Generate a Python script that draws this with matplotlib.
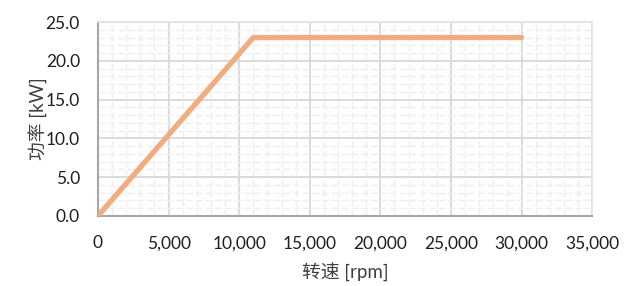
import matplotlib
matplotlib.use("Agg")
import matplotlib.pyplot as plt
from matplotlib.ticker import MultipleLocator, FuncFormatter

plt.rcParams['font.family'] = ['Lato', 'Noto Sans CJK SC', 'DejaVu Sans']

speed_rpm = [0, 11000, 30000]
power_kw = [0.0, 23.0, 23.0]
x_label = "转速 [rpm]"
y_label = "功率 [kW]"

fig = plt.figure(figsize=(6.24, 2.86), dpi=100)
ax = fig.add_axes([0.157, 0.245, 0.792, 0.678])

ax.plot(speed_rpm, power_kw, color='#F0AE80', linewidth=3.8, solid_capstyle='round', zorder=3)

ax.set_xlim(0, 35000)
ax.set_ylim(0, 25)
ax.xaxis.set_major_locator(MultipleLocator(5000))
ax.xaxis.set_minor_locator(MultipleLocator(1000))
ax.yaxis.set_major_locator(MultipleLocator(5))
ax.yaxis.set_minor_locator(MultipleLocator(1))
ax.xaxis.set_major_formatter(FuncFormatter(lambda v, p: f"{int(v):,}"))
ax.yaxis.set_major_formatter(FuncFormatter(lambda v, p: f"{v:.1f}"))

ax.grid(which='major', color='#D9D9D9', linewidth=1.3, zorder=0)
ax.grid(which='minor', color='#EFEFEF', linewidth=1.0, linestyle=(0, (5, 2)), zorder=0)
ax.set_axisbelow(True)

for s in ['top', 'right']:
    ax.spines[s].set_color('#E3E3E3')
    ax.spines[s].set_linewidth(1.3)
for s in ['left', 'bottom']:
    ax.spines[s].set_color('#A6A6A6')
    ax.spines[s].set_linewidth(1.5)

ax.tick_params(which='both', length=0, labelsize=12.5, labelcolor='#1F1F1F')
ax.tick_params(axis='x', pad=14)
ax.tick_params(axis='y', pad=13)

ax.set_xlabel(x_label, fontsize=13.5, color='#404040', labelpad=8)
ax.set_ylabel(y_label, fontsize=13.5, color='#404040', labelpad=-2)

fig.savefig("out.png", dpi=100)
